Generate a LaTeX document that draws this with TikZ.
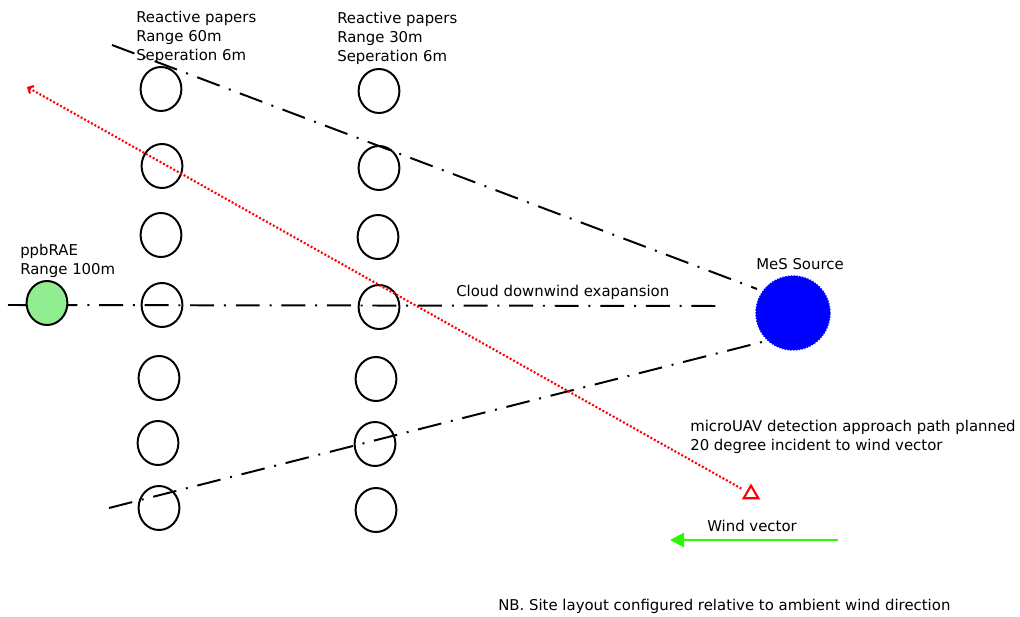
\documentclass[tikz,border=0pt]{standalone}
\usepackage{fontspec}
\setmainfont{DejaVu Sans}
\usetikzlibrary{shapes.geometric,arrows.meta,backgrounds}
\definecolor{windgreen}{RGB}{40,250,0}
\definecolor{sensorgreen}{RGB}{144,238,144}
\tikzset{
    paper/.style={draw,ellipse,line width=1.4pt,minimum width=1.02cm,minimum height=1.1cm,inner sep=0pt},
    plume/.style={line width=1.4pt,dash pattern=on 17pt off 7pt on 1.4pt off 7pt},
    uavpath/.style={red,line width=1.5pt,dash pattern=on 1.4pt off 1.4pt},
    note/.style={anchor=north west,inner sep=0pt,align=left,font=\fontsize{10.6}{13.5}\selectfont},
}
\begin{document}
\begin{tikzpicture}[x=0.025cm,y=-0.025cm]
        \useasboundingbox (0,0) rectangle (1020,617);
        \foreach \x/\y [count=\i] in {161/89,162/166,161/235,162/305,159/378,158/443,159/508}
            \node[paper] (pa\i) at (\x,\y) {};
        \foreach \x/\y [count=\i] in {379/91,379/168,378/237,379/307,376/379,375/444,376/510}
            \node[paper] (pb\i) at (\x,\y) {};
        \node[paper,fill=sensorgreen] (ppb) at (47,303) {};
        \node[circle,fill=blue,draw=blue,densely dotted,line width=1pt,minimum size=1.85cm,inner sep=0pt] (src) at (793,313) {};
        \node[regular polygon,regular polygon sides=3,draw=red,line width=1.5pt,minimum size=0.42cm,inner sep=0pt] (target) at (751,494) {};
        \coordinate (tA) at (112,45);
        \coordinate (tB) at (757,289);
        \coordinate (mA) at (8,305);
        \coordinate (mB) at (724,306);
        \coordinate (bA) at (109,508);
        \coordinate (bB) at (762,342);
        \coordinate (uavstart) at (27,87);
        \coordinate (wtail) at (838,540);
        \coordinate (whead) at (670,540);
        \begin{pgfonlayer}{background}
            \draw[plume] (tA) -- (tB);
            \draw[plume] (mA) -- (mB);
            \draw[plume] (bA) -- (bB);
        \end{pgfonlayer}
        \draw[uavpath,{Straight Barb[length=3pt,width=6pt]}-,shorten >=4pt] (uavstart) -- (target);
        \draw[windgreen,line width=1.8pt,-{Triangle[length=10pt,width=10pt]}] (wtail) -- (whead);
        \node[note] (lbl60) at (136,11) {Reactive papers\\Range 60m\\Seperation 6m};
        \node[note] (lbl30) at (337,12) {Reactive papers\\Range 30m\\Seperation 6m};
        \node[note] (ppblbl) at (20,244) {ppbRAE\\Range 100m};
        \node[note] (srclbl) at (756,258) {MeS Source};
        \node[note] (cloudlbl) at (456,285) {Cloud downwind exapansion};
        \node[note] (uavlbl) at (690,420) {microUAV detection approach path planned\\20 degree incident to wind vector};
        \node[note] (windlbl) at (707,520) {Wind vector};
        \node[note] (nblbl) at (498,599) {NB. Site layout configured relative to ambient wind direction};
    \end{tikzpicture}
\end{document}
